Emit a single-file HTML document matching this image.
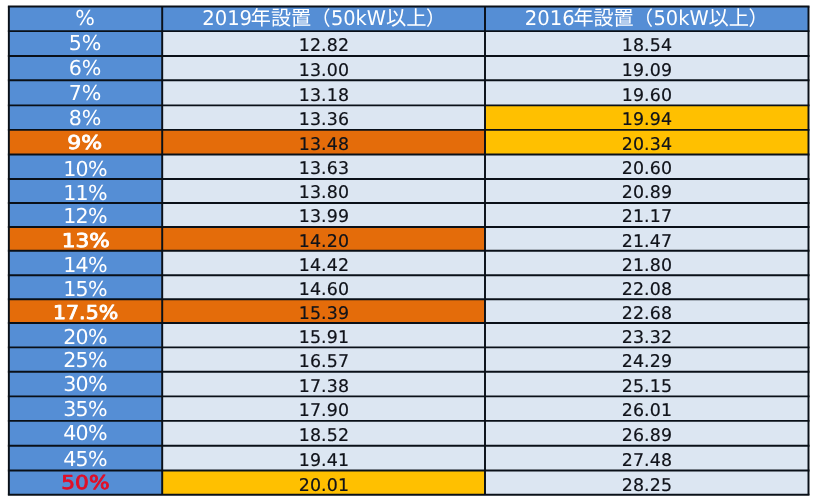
<!DOCTYPE html>
<html lang="ja"><head><meta charset="utf-8"><title>table</title>
<style>
html,body{margin:0;padding:0;background:#fff;}
body{width:813px;height:500px;overflow:hidden;}
svg{display:block;}
text{text-rendering:geometricPrecision;}
.l{font-family:"DejaVu Sans","Liberation Sans","Noto Sans CJK JP",sans-serif;}
.j{font-family:"Liberation Sans","Noto Sans CJK JP",sans-serif;}
</style></head><body>
<svg width="813" height="500" viewBox="0 0 813 500">
<rect x="0" y="0" width="813" height="500" fill="#fff"/>
<rect x="8.85" y="6.40" width="799.65" height="24.70" fill="#558ED5"/>
<rect x="8.85" y="31.10" width="153.35" height="24.95" fill="#558ED5"/>
<rect x="162.20" y="31.10" width="322.80" height="24.95" fill="#DCE6F2"/>
<rect x="485.00" y="31.10" width="323.50" height="24.95" fill="#DCE6F2"/>
<rect x="8.85" y="56.05" width="153.35" height="24.10" fill="#558ED5"/>
<rect x="162.20" y="56.05" width="322.80" height="24.10" fill="#DCE6F2"/>
<rect x="485.00" y="56.05" width="323.50" height="24.10" fill="#DCE6F2"/>
<rect x="8.85" y="80.15" width="153.35" height="25.20" fill="#558ED5"/>
<rect x="162.20" y="80.15" width="322.80" height="25.20" fill="#DCE6F2"/>
<rect x="485.00" y="80.15" width="323.50" height="25.20" fill="#DCE6F2"/>
<rect x="8.85" y="105.35" width="153.35" height="24.50" fill="#558ED5"/>
<rect x="162.20" y="105.35" width="322.80" height="24.50" fill="#DCE6F2"/>
<rect x="485.00" y="105.35" width="323.50" height="24.50" fill="#FFC000"/>
<rect x="8.85" y="129.85" width="153.35" height="24.60" fill="#E46C0A"/>
<rect x="162.20" y="129.85" width="322.80" height="24.60" fill="#E46C0A"/>
<rect x="485.00" y="129.85" width="323.50" height="24.60" fill="#FFC000"/>
<rect x="8.85" y="154.45" width="153.35" height="24.60" fill="#558ED5"/>
<rect x="162.20" y="154.45" width="322.80" height="24.60" fill="#DCE6F2"/>
<rect x="485.00" y="154.45" width="323.50" height="24.60" fill="#DCE6F2"/>
<rect x="8.85" y="179.05" width="153.35" height="23.90" fill="#558ED5"/>
<rect x="162.20" y="179.05" width="322.80" height="23.90" fill="#DCE6F2"/>
<rect x="485.00" y="179.05" width="323.50" height="23.90" fill="#DCE6F2"/>
<rect x="8.85" y="202.95" width="153.35" height="24.00" fill="#558ED5"/>
<rect x="162.20" y="202.95" width="322.80" height="24.00" fill="#DCE6F2"/>
<rect x="485.00" y="202.95" width="323.50" height="24.00" fill="#DCE6F2"/>
<rect x="8.85" y="226.95" width="153.35" height="23.80" fill="#E46C0A"/>
<rect x="162.20" y="226.95" width="322.80" height="23.80" fill="#E46C0A"/>
<rect x="485.00" y="226.95" width="323.50" height="23.80" fill="#DCE6F2"/>
<rect x="8.85" y="250.75" width="153.35" height="24.40" fill="#558ED5"/>
<rect x="162.20" y="250.75" width="322.80" height="24.40" fill="#DCE6F2"/>
<rect x="485.00" y="250.75" width="323.50" height="24.40" fill="#DCE6F2"/>
<rect x="8.85" y="275.15" width="153.35" height="24.00" fill="#558ED5"/>
<rect x="162.20" y="275.15" width="322.80" height="24.00" fill="#DCE6F2"/>
<rect x="485.00" y="275.15" width="323.50" height="24.00" fill="#DCE6F2"/>
<rect x="8.85" y="299.15" width="153.35" height="23.80" fill="#E46C0A"/>
<rect x="162.20" y="299.15" width="322.80" height="23.80" fill="#E46C0A"/>
<rect x="485.00" y="299.15" width="323.50" height="23.80" fill="#DCE6F2"/>
<rect x="8.85" y="322.95" width="153.35" height="24.40" fill="#558ED5"/>
<rect x="162.20" y="322.95" width="322.80" height="24.40" fill="#DCE6F2"/>
<rect x="485.00" y="322.95" width="323.50" height="24.40" fill="#DCE6F2"/>
<rect x="8.85" y="347.35" width="153.35" height="24.40" fill="#558ED5"/>
<rect x="162.20" y="347.35" width="322.80" height="24.40" fill="#DCE6F2"/>
<rect x="485.00" y="347.35" width="323.50" height="24.40" fill="#DCE6F2"/>
<rect x="8.85" y="371.75" width="153.35" height="24.60" fill="#558ED5"/>
<rect x="162.20" y="371.75" width="322.80" height="24.60" fill="#DCE6F2"/>
<rect x="485.00" y="371.75" width="323.50" height="24.60" fill="#DCE6F2"/>
<rect x="8.85" y="396.35" width="153.35" height="24.50" fill="#558ED5"/>
<rect x="162.20" y="396.35" width="322.80" height="24.50" fill="#DCE6F2"/>
<rect x="485.00" y="396.35" width="323.50" height="24.50" fill="#DCE6F2"/>
<rect x="8.85" y="420.85" width="153.35" height="24.80" fill="#558ED5"/>
<rect x="162.20" y="420.85" width="322.80" height="24.80" fill="#DCE6F2"/>
<rect x="485.00" y="420.85" width="323.50" height="24.80" fill="#DCE6F2"/>
<rect x="8.85" y="445.65" width="153.35" height="24.75" fill="#558ED5"/>
<rect x="162.20" y="445.65" width="322.80" height="24.75" fill="#DCE6F2"/>
<rect x="485.00" y="445.65" width="323.50" height="24.75" fill="#DCE6F2"/>
<rect x="8.85" y="470.40" width="153.35" height="24.40" fill="#558ED5"/>
<rect x="162.20" y="470.40" width="322.80" height="24.40" fill="#FFC000"/>
<rect x="485.00" y="470.40" width="323.50" height="24.40" fill="#DCE6F2"/>
<line x1="7.88" x2="809.48" y1="6.40" y2="6.40" stroke="#0a1018" stroke-width="1.95"/>
<line x1="7.88" x2="809.48" y1="31.10" y2="31.10" stroke="#0a1018" stroke-width="1.95"/>
<line x1="7.88" x2="809.48" y1="56.05" y2="56.05" stroke="#0a1018" stroke-width="1.95"/>
<line x1="7.88" x2="809.48" y1="80.15" y2="80.15" stroke="#0a1018" stroke-width="1.95"/>
<line x1="7.88" x2="809.48" y1="105.35" y2="105.35" stroke="#0a1018" stroke-width="1.95"/>
<line x1="7.88" x2="809.48" y1="129.85" y2="129.85" stroke="#0a1018" stroke-width="1.95"/>
<line x1="7.88" x2="809.48" y1="154.45" y2="154.45" stroke="#0a1018" stroke-width="1.95"/>
<line x1="7.88" x2="809.48" y1="179.05" y2="179.05" stroke="#0a1018" stroke-width="1.95"/>
<line x1="7.88" x2="809.48" y1="202.95" y2="202.95" stroke="#0a1018" stroke-width="1.95"/>
<line x1="7.88" x2="809.48" y1="226.95" y2="226.95" stroke="#0a1018" stroke-width="1.95"/>
<line x1="7.88" x2="809.48" y1="250.75" y2="250.75" stroke="#0a1018" stroke-width="1.95"/>
<line x1="7.88" x2="809.48" y1="275.15" y2="275.15" stroke="#0a1018" stroke-width="1.95"/>
<line x1="7.88" x2="809.48" y1="299.15" y2="299.15" stroke="#0a1018" stroke-width="1.95"/>
<line x1="7.88" x2="809.48" y1="322.95" y2="322.95" stroke="#0a1018" stroke-width="1.95"/>
<line x1="7.88" x2="809.48" y1="347.35" y2="347.35" stroke="#0a1018" stroke-width="1.95"/>
<line x1="7.88" x2="809.48" y1="371.75" y2="371.75" stroke="#0a1018" stroke-width="1.95"/>
<line x1="7.88" x2="809.48" y1="396.35" y2="396.35" stroke="#0a1018" stroke-width="1.95"/>
<line x1="7.88" x2="809.48" y1="420.85" y2="420.85" stroke="#0a1018" stroke-width="1.95"/>
<line x1="7.88" x2="809.48" y1="445.65" y2="445.65" stroke="#0a1018" stroke-width="1.95"/>
<line x1="7.88" x2="809.48" y1="470.40" y2="470.40" stroke="#0a1018" stroke-width="1.95"/>
<line x1="7.88" x2="809.48" y1="494.80" y2="494.80" stroke="#0a1018" stroke-width="1.95"/>
<line x1="8.85" x2="8.85" y1="6.40" y2="494.80" stroke="#0a1018" stroke-width="1.95"/>
<line x1="162.20" x2="162.20" y1="6.40" y2="494.80" stroke="#0a1018" stroke-width="1.95"/>
<line x1="485.00" x2="485.00" y1="6.40" y2="494.80" stroke="#0a1018" stroke-width="1.95"/>
<line x1="808.50" x2="808.50" y1="6.40" y2="494.80" stroke="#0a1018" stroke-width="1.95"/>
<text class="l" x="85.00" y="25.05" font-size="20.6" fill="#fff" text-anchor="middle">%</text>
<text class="l" x="202.20" y="25.05" font-size="20.3" fill="#fff" textLength="49.9" lengthAdjust="spacingAndGlyphs">2019</text>
<text class="j" x="250.80" y="25.05" font-size="20.1" fill="#fff">年設置</text>
<text class="j" x="310.96" y="25.05" font-size="19.5" fill="#fff">（</text>
<text class="l" x="330.90" y="25.05" font-size="20.3" fill="#fff" textLength="55.2" lengthAdjust="spacingAndGlyphs">50kW</text>
<text class="j" x="385.90" y="25.05" font-size="20.3" fill="#fff">以上</text>
<text class="j" x="426.00" y="25.05" font-size="19.5" fill="#fff">）</text>
<text class="l" x="524.80" y="25.05" font-size="20.3" fill="#fff" textLength="49.9" lengthAdjust="spacingAndGlyphs">2016</text>
<text class="j" x="573.40" y="25.05" font-size="20.1" fill="#fff">年設置</text>
<text class="j" x="633.56" y="25.05" font-size="19.5" fill="#fff">（</text>
<text class="l" x="653.50" y="25.05" font-size="20.3" fill="#fff" textLength="55.2" lengthAdjust="spacingAndGlyphs">50kW</text>
<text class="j" x="708.50" y="25.05" font-size="20.3" fill="#fff">以上</text>
<text class="j" x="748.60" y="25.05" font-size="19.5" fill="#fff">）</text>
<text class="l" x="85.00" y="50.10" font-size="20.6" fill="#fff" text-anchor="middle" letter-spacing="0">5%</text>
<text class="l" x="323.95" y="51.35" font-size="17.4" fill="#10131a" stroke="#10131a" stroke-width="0.18" text-anchor="middle" letter-spacing="0.15">12.82</text>
<text class="l" x="646.95" y="51.35" font-size="17.4" fill="#10131a" stroke="#10131a" stroke-width="0.18" text-anchor="middle" letter-spacing="0.15">18.54</text>
<text class="l" x="85.00" y="75.35" font-size="20.6" fill="#fff" text-anchor="middle" letter-spacing="0">6%</text>
<text class="l" x="323.95" y="76.30" font-size="17.4" fill="#10131a" stroke="#10131a" stroke-width="0.18" text-anchor="middle" letter-spacing="0.15">13.00</text>
<text class="l" x="646.95" y="76.30" font-size="17.4" fill="#10131a" stroke="#10131a" stroke-width="0.18" text-anchor="middle" letter-spacing="0.15">19.09</text>
<text class="l" x="85.00" y="99.65" font-size="20.6" fill="#fff" text-anchor="middle" letter-spacing="0">7%</text>
<text class="l" x="323.95" y="101.40" font-size="17.4" fill="#10131a" stroke="#10131a" stroke-width="0.18" text-anchor="middle" letter-spacing="0.15">13.18</text>
<text class="l" x="646.95" y="101.40" font-size="17.4" fill="#10131a" stroke="#10131a" stroke-width="0.18" text-anchor="middle" letter-spacing="0.15">19.60</text>
<text class="l" x="85.00" y="124.85" font-size="20.6" fill="#fff" text-anchor="middle" letter-spacing="0">8%</text>
<text class="l" x="323.95" y="124.60" font-size="17.4" fill="#10131a" stroke="#10131a" stroke-width="0.18" text-anchor="middle" letter-spacing="0.15">13.36</text>
<text class="l" x="646.95" y="124.60" font-size="17.4" fill="#10131a" stroke="#10131a" stroke-width="0.18" text-anchor="middle" letter-spacing="0.15">19.94</text>
<text class="l" x="84.60" y="149.20" font-size="19.1" fill="#fff" stroke="#fff" stroke-width="0.85" stroke-linejoin="round" text-anchor="middle" textLength="34.8" lengthAdjust="spacingAndGlyphs">9%</text>
<text class="l" x="323.95" y="150.10" font-size="17.4" fill="#10131a" stroke="#10131a" stroke-width="0.18" text-anchor="middle" letter-spacing="0.15">13.48</text>
<text class="l" x="646.95" y="150.10" font-size="17.4" fill="#10131a" stroke="#10131a" stroke-width="0.18" text-anchor="middle" letter-spacing="0.15">20.34</text>
<text class="l" x="85.00" y="175.75" font-size="20.6" fill="#fff" text-anchor="middle" letter-spacing="-0.7">10%</text>
<text class="l" x="323.95" y="173.70" font-size="17.4" fill="#10131a" stroke="#10131a" stroke-width="0.18" text-anchor="middle" letter-spacing="0.15">13.63</text>
<text class="l" x="646.95" y="173.70" font-size="17.4" fill="#10131a" stroke="#10131a" stroke-width="0.18" text-anchor="middle" letter-spacing="0.15">20.60</text>
<text class="l" x="85.00" y="200.05" font-size="20.6" fill="#fff" text-anchor="middle" letter-spacing="-0.7">11%</text>
<text class="l" x="323.95" y="198.10" font-size="17.4" fill="#10131a" stroke="#10131a" stroke-width="0.18" text-anchor="middle" letter-spacing="0.15">13.80</text>
<text class="l" x="646.95" y="198.10" font-size="17.4" fill="#10131a" stroke="#10131a" stroke-width="0.18" text-anchor="middle" letter-spacing="0.15">20.89</text>
<text class="l" x="85.00" y="223.45" font-size="20.6" fill="#fff" text-anchor="middle" letter-spacing="-0.7">12%</text>
<text class="l" x="323.95" y="222.10" font-size="17.4" fill="#10131a" stroke="#10131a" stroke-width="0.18" text-anchor="middle" letter-spacing="0.15">13.99</text>
<text class="l" x="646.95" y="222.10" font-size="17.4" fill="#10131a" stroke="#10131a" stroke-width="0.18" text-anchor="middle" letter-spacing="0.15">21.17</text>
<text class="l" x="85.70" y="246.85" font-size="19.1" fill="#fff" stroke="#fff" stroke-width="0.85" stroke-linejoin="round" text-anchor="middle" textLength="48.1" lengthAdjust="spacingAndGlyphs">13%</text>
<text class="l" x="323.95" y="247.20" font-size="17.4" fill="#10131a" stroke="#10131a" stroke-width="0.18" text-anchor="middle" letter-spacing="0.15">14.20</text>
<text class="l" x="646.95" y="247.20" font-size="17.4" fill="#10131a" stroke="#10131a" stroke-width="0.18" text-anchor="middle" letter-spacing="0.15">21.47</text>
<text class="l" x="85.00" y="272.45" font-size="20.6" fill="#fff" text-anchor="middle" letter-spacing="-0.7">14%</text>
<text class="l" x="323.95" y="271.00" font-size="17.4" fill="#10131a" stroke="#10131a" stroke-width="0.18" text-anchor="middle" letter-spacing="0.15">14.42</text>
<text class="l" x="646.95" y="271.00" font-size="17.4" fill="#10131a" stroke="#10131a" stroke-width="0.18" text-anchor="middle" letter-spacing="0.15">21.80</text>
<text class="l" x="85.00" y="296.45" font-size="20.6" fill="#fff" text-anchor="middle" letter-spacing="-0.7">15%</text>
<text class="l" x="323.95" y="295.40" font-size="17.4" fill="#10131a" stroke="#10131a" stroke-width="0.18" text-anchor="middle" letter-spacing="0.15">14.60</text>
<text class="l" x="646.95" y="295.40" font-size="17.4" fill="#10131a" stroke="#10131a" stroke-width="0.18" text-anchor="middle" letter-spacing="0.15">22.08</text>
<text class="l" x="85.60" y="319.35" font-size="19.1" fill="#fff" stroke="#fff" stroke-width="0.85" stroke-linejoin="round" text-anchor="middle" textLength="65.3" lengthAdjust="spacingAndGlyphs">17.5%</text>
<text class="l" x="323.95" y="319.40" font-size="17.4" fill="#10131a" stroke="#10131a" stroke-width="0.18" text-anchor="middle" letter-spacing="0.15">15.39</text>
<text class="l" x="646.95" y="319.40" font-size="17.4" fill="#10131a" stroke="#10131a" stroke-width="0.18" text-anchor="middle" letter-spacing="0.15">22.68</text>
<text class="l" x="85.00" y="344.25" font-size="20.6" fill="#fff" text-anchor="middle" letter-spacing="-0.7">20%</text>
<text class="l" x="323.95" y="343.20" font-size="17.4" fill="#10131a" stroke="#10131a" stroke-width="0.18" text-anchor="middle" letter-spacing="0.15">15.91</text>
<text class="l" x="646.95" y="343.20" font-size="17.4" fill="#10131a" stroke="#10131a" stroke-width="0.18" text-anchor="middle" letter-spacing="0.15">23.32</text>
<text class="l" x="85.00" y="366.65" font-size="20.6" fill="#fff" text-anchor="middle" letter-spacing="-0.7">25%</text>
<text class="l" x="323.95" y="366.60" font-size="17.4" fill="#10131a" stroke="#10131a" stroke-width="0.18" text-anchor="middle" letter-spacing="0.15">16.57</text>
<text class="l" x="646.95" y="366.60" font-size="17.4" fill="#10131a" stroke="#10131a" stroke-width="0.18" text-anchor="middle" letter-spacing="0.15">24.29</text>
<text class="l" x="85.00" y="391.05" font-size="20.6" fill="#fff" text-anchor="middle" letter-spacing="-0.7">30%</text>
<text class="l" x="323.95" y="392.00" font-size="17.4" fill="#10131a" stroke="#10131a" stroke-width="0.18" text-anchor="middle" letter-spacing="0.15">17.38</text>
<text class="l" x="646.95" y="392.00" font-size="17.4" fill="#10131a" stroke="#10131a" stroke-width="0.18" text-anchor="middle" letter-spacing="0.15">25.15</text>
<text class="l" x="85.00" y="415.85" font-size="20.6" fill="#fff" text-anchor="middle" letter-spacing="-0.7">35%</text>
<text class="l" x="323.95" y="415.70" font-size="17.4" fill="#10131a" stroke="#10131a" stroke-width="0.18" text-anchor="middle" letter-spacing="0.15">17.90</text>
<text class="l" x="646.95" y="415.70" font-size="17.4" fill="#10131a" stroke="#10131a" stroke-width="0.18" text-anchor="middle" letter-spacing="0.15">26.01</text>
<text class="l" x="85.00" y="440.05" font-size="20.6" fill="#fff" text-anchor="middle" letter-spacing="-0.7">40%</text>
<text class="l" x="323.95" y="441.10" font-size="17.4" fill="#10131a" stroke="#10131a" stroke-width="0.18" text-anchor="middle" letter-spacing="0.15">18.52</text>
<text class="l" x="646.95" y="441.10" font-size="17.4" fill="#10131a" stroke="#10131a" stroke-width="0.18" text-anchor="middle" letter-spacing="0.15">26.89</text>
<text class="l" x="85.00" y="465.65" font-size="20.6" fill="#fff" text-anchor="middle" letter-spacing="-0.7">45%</text>
<text class="l" x="323.95" y="465.90" font-size="17.4" fill="#10131a" stroke="#10131a" stroke-width="0.18" text-anchor="middle" letter-spacing="0.15">19.41</text>
<text class="l" x="646.95" y="465.90" font-size="17.4" fill="#10131a" stroke="#10131a" stroke-width="0.18" text-anchor="middle" letter-spacing="0.15">27.48</text>
<text class="l" x="85.40" y="489.35" font-size="19.1" fill="#E00F28" stroke="#E00F28" stroke-width="0.85" stroke-linejoin="round" text-anchor="middle" textLength="48.3" lengthAdjust="spacingAndGlyphs">50%</text>
<text class="l" x="323.95" y="490.65" font-size="17.4" fill="#10131a" stroke="#10131a" stroke-width="0.18" text-anchor="middle" letter-spacing="0.15">20.01</text>
<text class="l" x="646.95" y="490.65" font-size="17.4" fill="#10131a" stroke="#10131a" stroke-width="0.18" text-anchor="middle" letter-spacing="0.15">28.25</text>
</svg>
</body></html>
